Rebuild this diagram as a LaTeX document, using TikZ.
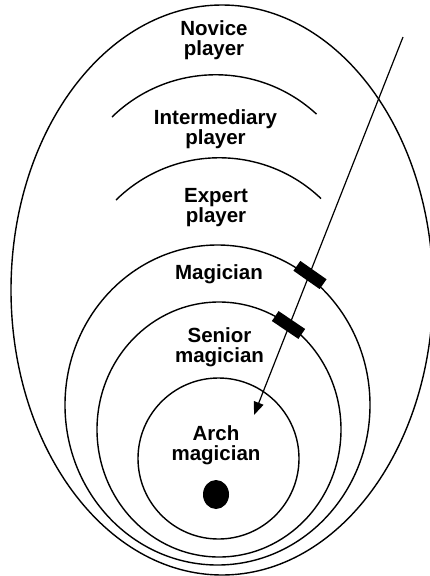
\documentclass[tikz,border=0pt]{standalone}
\usepackage{fontspec}
\setmainfont{Liberation Sans}
\usetikzlibrary{arrows.meta}
\begin{document}
\begin{tikzpicture}[x=1pt,y=-1pt,
  ring/.style={draw, line width=1.4pt},
  level/.style={font=\bfseries\fontsize{20.5}{20}\selectfont, align=center, anchor=base, inner sep=0pt},
  gate/.style={fill=black, minimum width=32pt, minimum height=12pt, inner sep=0pt},
  path/.style={line width=1.2pt, -{Triangle[length=13pt,width=10pt]}}
  ]
\useasboundingbox (0,0) rectangle (430,576);

% nested stages
\draw[ring] (222,290) ellipse [x radius=211, y radius=285];
\draw[ring] (112,117) arc[start angle=-134.3, end angle=-47.3, radius=148.6];
\draw[ring] (116,200) arc[start angle=-134.5, end angle=-46.3, radius=147.3];
\draw[ring] (217.5,405) ellipse [x radius=152.5, y radius=160];
\draw[ring] (219,429.5) ellipse [x radius=122, y radius=127.5];
\draw[ring] (218.5,458.5) ellipse [x radius=80.5, y radius=80.5];
\fill (216,494.5) ellipse [x radius=13, y radius=14.5];

% stage labels (anchored on the baseline of the last line)
\node[level] (novice) at (214,55) {Novice\\player};
\node[level] (inter) at (215.5,144) {Intermediary\\player};
\node[level] (expert) at (216,222) {Expert\\player};
\node[level] (magician) at (219,279) {Magician};
\node[level] (senior) at (219.5,362) {Senior\\magician};
\node[level] (arch) at (216,460) {Arch\\magician};

% progression arrow and gates
\coordinate (src) at (403,37);
\coordinate (tip) at (254,415);
\draw[path] (src) -- (tip);
\node[gate, rotate=-35] (gateA) at (310,275) {};
\node[gate, rotate=-34] (gateB) at (288.5,325) {};
\end{tikzpicture}
\end{document}
